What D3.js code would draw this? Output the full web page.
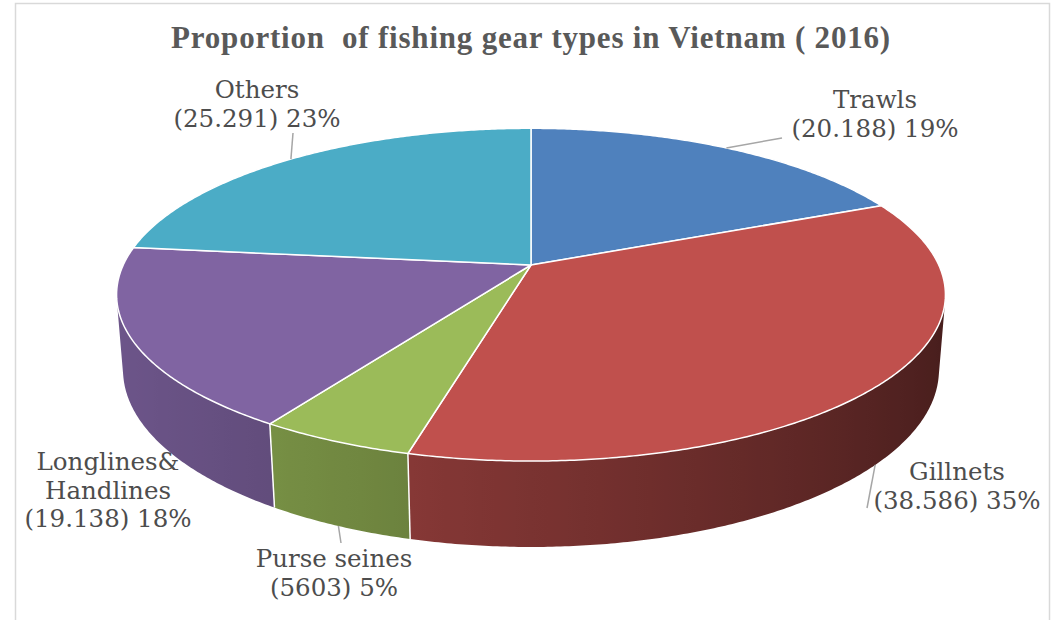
<!DOCTYPE html>
<html>
<head>
<meta charset="utf-8">
<script src="https://cdn.jsdelivr.net/npm/d3@7"></script>
<style>
  html, body { margin: 0; padding: 0; background: #ffffff; }
  svg { display: block; }
</style>
</head>
<body>
<svg id="chart" width="1052" height="620"></svg>
<script>
// ---- data ----
const categories = ["Trawls", "Gillnets", "Purse seines", "Longlines&\nHandlines", "Others"];
const values = [20188, 38586, 5603, 19138, 25291];
const valueText = ["20.188", "38.586", "5603", "19.138", "25.291"];
const colors = ["#4f81bd", "#c0504d", "#9bbb59", "#8064a2", "#4bacc6"];
const title = "Proportion\u00a0 of fishing gear types in Vietnam ( 2016)";

// ---- layout ----
const svg = d3.select("#chart");
const defs = svg.append("defs");

// Perspective camera looking down on a unit disc
const cam = {
  cx: 531, cy: 265,       // screen position of the disc centre
  f: 2100,                // focal length in px
  dist: 5.15,             // camera distance (disc radii)
  tilt: Math.asin(0.395), // elevation of the camera
  depth: 0.2              // thickness of the pie (disc radii)
};
const cs = Math.cos(cam.tilt), sn = Math.sin(cam.tilt);

// theta: clockwise from 12 o'clock (d3.pie convention); h: 0 top face, -depth bottom
function project(theta, r, h) {
  const x = r * Math.sin(theta);
  const z = -r * Math.cos(theta);
  const d = cam.dist - (h * sn + z * cs);
  return [cam.cx + cam.f * x / d, cam.cy + cam.f * (z * sn - h * cs) / d];
}

// outer wall faces the viewer where cos(theta) < -1/(dist*cos(tilt))
const visLimit = Math.acos(-1 / (cam.dist * cs));
const visMin = visLimit, visMax = 2 * Math.PI - visLimit;

// wall shading: light from the left, slightly in front
const light = (() => { const l = [-1, 0, 0.15]; const n = Math.hypot(...l); return l.map(v => v / n); })();
function shade(color, theta) {
  const nx = Math.sin(theta), nz = -Math.cos(theta);
  const dot = nx * light[0] + nz * light[2];
  const k = 0.60 + 0.25 * dot;
  const c = d3.rgb(color);
  return d3.rgb(c.r * k, c.g * k, c.b * k).formatHex();
}

const total = d3.sum(values);
const pct = d3.format(".0%");
const arcs = d3.pie().sort(null).value(d => d)(values);

// background frame
svg.append("rect")
  .attr("x", 15.5).attr("y", 3.5)
  .attr("width", 1034).attr("height", 640)
  .attr("fill", "#ffffff")
  .attr("stroke", "#d9d9d9").attr("stroke-width", 1.5);

// title
svg.append("text")
  .attr("x", 531).attr("y", 48)
  .attr("text-anchor", "middle")
  .attr("font-family", "'Liberation Serif', 'Times New Roman', serif")
  .attr("font-weight", "bold")
  .attr("font-size", 31)
  .attr("letter-spacing", 0.8)
  .attr("fill", "#595959")
  .text(title);

const pie = svg.append("g");
const line = d3.line();
const deg = Math.PI / 180;

// ---- outer walls (front-facing part only), shaded with a horizontal gradient ----
const walls = pie.append("g");
arcs.forEach((a, i) => {
  const t0 = Math.max(a.startAngle, visMin), t1 = Math.min(a.endAngle, visMax);
  if (t1 <= t0) return;
  const n = Math.max(2, Math.ceil((t1 - t0) / (deg / 2)));
  const thetas = d3.range(n + 1).map(k => t0 + (t1 - t0) * k / n);
  const topPts = thetas.map(t => project(t, 1, 0));
  const botPts = thetas.map(t => project(t, 1, -cam.depth)).reverse();

  const xs = topPts.map(p => p[0]);
  const xMin = d3.min(xs), xMax = d3.max(xs);
  const grad = defs.append("linearGradient")
    .attr("id", `wall-${i}`)
    .attr("gradientUnits", "userSpaceOnUse")
    .attr("x1", xMin).attr("x2", xMax).attr("y1", 0).attr("y2", 0);
  const stops = thetas.filter((t, k) => k % 4 === 0 || k === n)
    .map(t => ({ off: (project(t, 1, 0)[0] - xMin) / (xMax - xMin), col: shade(colors[i], t) }))
    .sort((p, q) => p.off - q.off);
  stops.forEach(s => grad.append("stop").attr("offset", s.off).attr("stop-color", s.col));

  walls.append("path")
    .attr("d", line(topPts.concat(botPts)) + "Z")
    .attr("fill", `url(#wall-${i})`);
});
// white seams between walls
arcs.forEach(a => {
  const t = a.startAngle;
  if (t > visMin && t < visMax) {
    walls.append("path")
      .attr("d", line([project(t, 1, 0), project(t, 1, -cam.depth)]))
      .attr("stroke", "#ffffff").attr("stroke-width", 1.5).attr("fill", "none");
  }
});

// ---- top faces ----
const tops = pie.append("g");
arcs.forEach((a, i) => {
  const n = Math.max(4, Math.ceil((a.endAngle - a.startAngle) / (deg / 2)));
  const pts = [project(0, 0, 0)];
  for (let k = 0; k <= n; k++) {
    const t = a.startAngle + (a.endAngle - a.startAngle) * k / n;
    pts.push(project(t, 1, 0));
  }
  tops.append("path")
    .attr("d", line(pts) + "Z")
    .attr("fill", colors[i])
    .attr("stroke", "#ffffff").attr("stroke-width", 1.5)
    .attr("stroke-linejoin", "round");
});

// ---- data labels with leader lines ----
// anchorH: face the leader leaves from; x/y: text centre and first baseline; end: leader end
const labelLayout = [
  { anchorH: 0,           x: 875, y: 108, end: [782, 138] },
  { anchorH: -cam.depth,  x: 957, y: 480, end: [867, 508] },
  { anchorH: -cam.depth,  x: 334, y: 567, end: [341, 543] },
  { anchorH: null,        x: 108, y: 470, end: null },
  { anchorH: 0,           x: 257, y: 98,  end: [293, 133] }
];
const lineH = 28.5;
const labels = svg.append("g")
  .attr("font-family", "'DejaVu Serif', serif")
  .attr("font-size", 24.5)
  .attr("fill", "#4d4d4d");

arcs.forEach((a, i) => {
  const L = labelLayout[i];
  if (L.end) {
    const mid = (a.startAngle + a.endAngle) / 2;
    labels.append("path")
      .attr("d", line([project(mid, 1, L.anchorH), L.end]))
      .attr("stroke", "#a6a6a6").attr("stroke-width", 1.5).attr("fill", "none");
  }
  const rows = categories[i].split("\n").concat([`(${valueText[i]}) ${pct(values[i] / total)}`]);
  const txt = labels.append("text")
    .attr("text-anchor", "middle")
    .attr("x", L.x).attr("y", L.y);
  rows.forEach((r, k) => {
    txt.append("tspan").attr("x", L.x).attr("dy", k === 0 ? 0 : lineH).text(r);
  });
});
</script>
</body>
</html>
